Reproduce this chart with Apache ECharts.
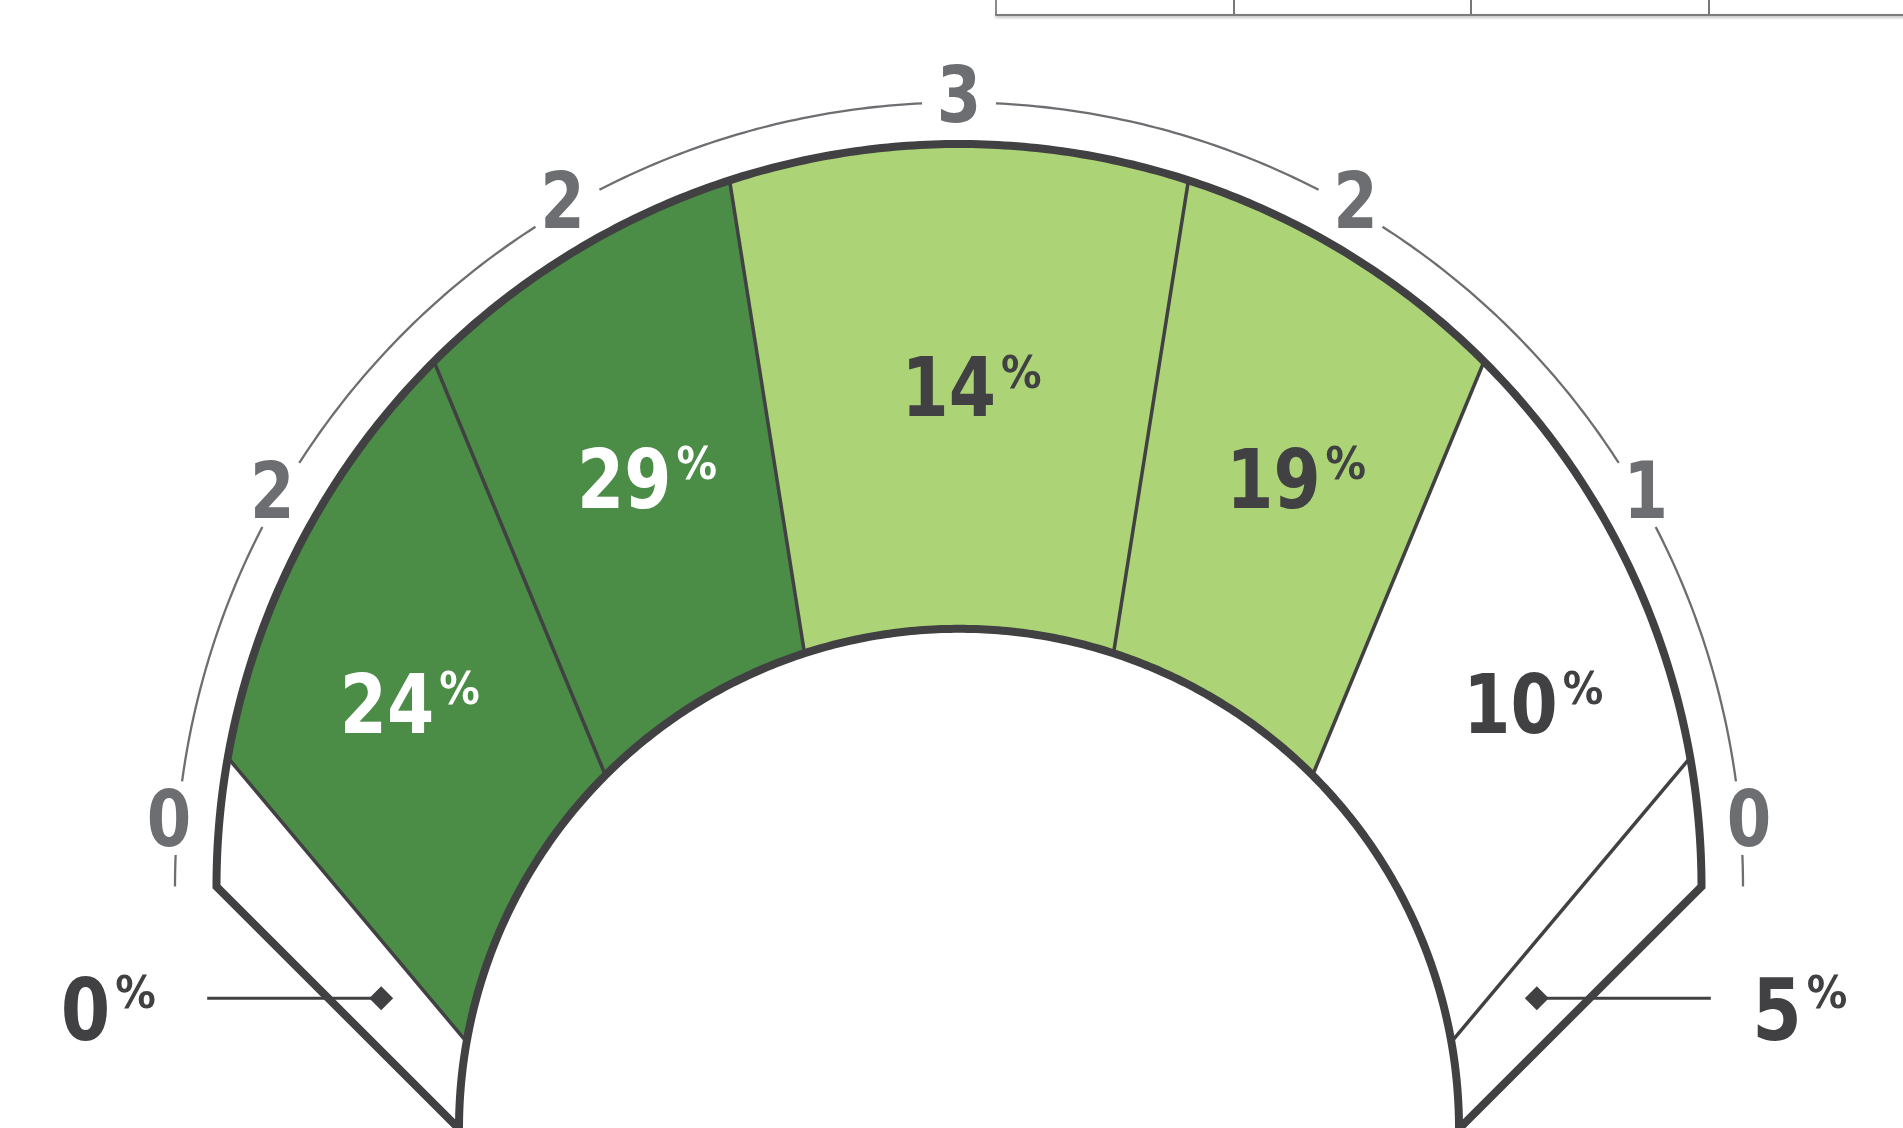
<!DOCTYPE html>
<html><head><meta charset="utf-8">
<script src="https://cdn.jsdelivr.net/npm/echarts@6/dist/echarts.min.js"></script>
<style>html,body{margin:0;padding:0;background:#fff}#main{width:1903px;height:1128px}</style>
</head><body><div id="main"></div>
<script>
// ---------------- data ----------------
const segmentEdges  = [-90, -80, -45, -18, 18, 45, 80, 90];   // gauge boundaries (degrees from top)
const segmentValues = [0, 24, 29, 14, 19, 10, 5];              // percent per segment
const scaleAngles   = [-85, -60, -30, 0, 30, 60, 85];          // scale label positions (degrees)
const scaleLabels   = ['0', '2', '2', '3', '2', '1', '0'];
const tableColumns  = ['', '', '', ''];

// ---------------- styles / layout ----------------
const segmentColors     = ['#ffffff', '#4b8d47', '#4b8d47', '#acd376', '#acd376', '#ffffff', '#ffffff'];
const segmentTextColors = ['#414042', '#ffffff', '#ffffff', '#414042', '#414042', '#414042', '#414042'];
const LABEL_DEPTH = [0.67, 0.45, 0.5, 0.5, 0.5, 0.45, 0.67];
const C1 = [959, 886.5], R1 = 742.5;   // outer rim circle
const C2 = [959, 1128.8], R2 = 500;    // inner hole circle
const RING_R = 784, LABEL_R = 793, GAP = 2.7;
const LEADER_LEN = 174;
const DARK = '#414042', GREY = '#6d6e71';
const FONT = '"DejaVu Sans Condensed", "DejaVu Sans", sans-serif';
const FD = 82, FP = 45, FS = 79, SX = 0.92, SXP = 1.0, SXS = 0.9;

const rad = d => d * Math.PI / 180;
function onCircle(c, r, deg) { return [c[0] + r * Math.sin(rad(deg)), c[1] - r * Math.cos(rad(deg))]; }
function along(deg, t) {
  const a = onCircle(C1, R1, deg), b = onCircle(C2, R2, deg);
  return [a[0] + (b[0] - a[0]) * t, a[1] + (b[1] - a[1]) * t];
}
function arcPts(c, r, d0, d1, api) {
  const n = Math.max(2, Math.ceil(Math.abs(d1 - d0) / 0.5));
  const pts = [];
  for (let i = 0; i <= n; i++) pts.push(api.coord(onCircle(c, r, d0 + (d1 - d0) * i / n)));
  return pts;
}
function pctText(v, split, cy, fill, fd) {
  return [
    { type: 'text', x: split - 3, y: cy + 0.106 * fd, scaleX: SX, z2: 20,
      style: { text: String(v), font: 'bold ' + fd + 'px ' + FONT, fill: fill,
               align: 'right', verticalAlign: 'middle', textAlign: 'right', textVerticalAlign: 'middle' } },
    { type: 'text', x: split + 2, y: cy - 0.358 * fd + 0.466 * FP - 2, scaleX: SXP, z2: 20,
      style: { text: '%', font: 'bold ' + FP + 'px ' + FONT, fill: fill,
               align: 'left', verticalAlign: 'middle', textAlign: 'left', textVerticalAlign: 'middle' } }
  ];
}

const segmentData = segmentValues.map((v, i) => [segmentEdges[i], segmentEdges[i + 1], v, i]);
const scaleData = scaleAngles.map((a, i) => [a, i]);

const chart = echarts.init(document.getElementById('main'));
chart.setOption({
  animation: false,
  backgroundColor: '#ffffff',
  grid: [
    { left: 996, top: -300, width: 950, height: 314.7, outerBoundsMode: 'none', containLabel: false },
    { left: 0, top: 0, right: 0, bottom: 0, outerBoundsMode: 'none', containLabel: false }
  ],
  xAxis: [
    { gridIndex: 0, type: 'category', data: tableColumns, boundaryGap: true,
      axisLine: { show: true, lineStyle: { color: '#7c7c7c', width: 2, shadowColor: 'rgba(0,0,0,0.35)', shadowBlur: 3, shadowOffsetY: 1.5 } },
      axisTick: { show: false }, axisLabel: { show: false },
      splitLine: { show: true, interval: 0, lineStyle: { color: '#4a4a4a', width: 1.5 } } },
    { gridIndex: 1, type: 'value', min: 0, max: 1903, show: false }
  ],
  yAxis: [
    { gridIndex: 0, type: 'value', min: 0, max: 1,
      axisLine: { show: true, lineStyle: { color: '#8a8a8a', width: 2 } },
      axisTick: { show: false }, axisLabel: { show: false }, splitLine: { show: false } },
    { gridIndex: 1, type: 'value', min: 0, max: 1128, inverse: true, show: false }
  ],
  series: [
    { type: 'bar', xAxisIndex: 0, yAxisIndex: 0, data: [] },
    {
      type: 'custom', xAxisIndex: 1, yAxisIndex: 1, z: 2, data: segmentData,
      renderItem: function (params, api) {
        const i = params.dataIndex;
        const a0 = api.value(0), a1 = api.value(1), v = api.value(2);
        const last = segmentValues.length - 1;
        const children = [];
        const pts = arcPts(C1, R1, a0, a1, api).concat(arcPts(C2, R2, a1, a0, api));
        children.push({ type: 'polygon', z2: 0, shape: { points: pts },
          style: { fill: segmentColors[i], stroke: segmentColors[i], lineWidth: 0.6 } });
        if (i < last) {
          const p = api.coord(onCircle(C1, R1, a1)), q = api.coord(onCircle(C2, R2, a1));
          children.push({ type: 'line', z2: 10, shape: { x1: p[0], y1: p[1], x2: q[0], y2: q[1] },
            style: { stroke: DARK, lineWidth: 3.5 } });
        }
        const mid = (a0 + a1) / 2;
        const anchor = api.coord(along(mid, LABEL_DEPTH[i]));
        if (a1 - a0 >= 20) {
          children.push.apply(children, pctText(v, anchor[0] + 40, anchor[1], segmentTextColors[i], FD));
        } else {
          const side = mid < 0 ? -1 : 1;
          const d = 12;
          children.push({ type: 'polygon', z2: 15,
            shape: { points: [[anchor[0] - d, anchor[1]], [anchor[0], anchor[1] - d], [anchor[0] + d, anchor[1]], [anchor[0], anchor[1] + d]] },
            style: { fill: DARK } });
          const endX = anchor[0] + side * LEADER_LEN;
          children.push({ type: 'line', z2: 15, shape: { x1: anchor[0], y1: anchor[1], x2: endX, y2: anchor[1] },
            style: { stroke: DARK, lineWidth: 3 } });
          children.push.apply(children, pctText(v, endX + side * 94, anchor[1] + 10, DARK, 86));
        }
        return { type: 'group', children: children };
      }
    },
    {
      type: 'custom', xAxisIndex: 1, yAxisIndex: 1, z: 3, data: [[0]],
      renderItem: function (params, api) {
        const pts = arcPts(C1, R1, -90, 90, api).concat(arcPts(C2, R2, 90, -90, api));
        return { type: 'polygon', shape: { points: pts },
          style: { fill: 'none', stroke: DARK, lineWidth: 8, lineJoin: 'miter' } };
      }
    },
    {
      type: 'custom', xAxisIndex: 1, yAxisIndex: 1, z: 4, data: scaleData,
      renderItem: function (params, api) {
        const i = params.dataIndex;
        const a = api.value(0);
        const children = [];
        const p = api.coord(onCircle(C1, LABEL_R, a));
        children.push({ type: 'text', x: p[0], y: p[1] + 0.1 * FS, scaleX: SXS,
          style: { text: scaleLabels[i], font: 'bold ' + FS + 'px ' + FONT, fill: GREY,
                   align: 'center', verticalAlign: 'middle', textAlign: 'center', textVerticalAlign: 'middle' } });
        const segs = [];
        if (i === 0) segs.push([-90, a - GAP]);
        segs.push([a + GAP, i < scaleAngles.length - 1 ? scaleAngles[i + 1] - GAP : 90]);
        segs.forEach(function (s) {
          children.push({ type: 'polyline', shape: { points: arcPts(C1, RING_R, s[0], s[1], api) },
            style: { fill: 'none', stroke: GREY, lineWidth: 2.3 } });
        });
        return { type: 'group', children: children };
      }
    }
  ]
});
</script>
</body></html>
